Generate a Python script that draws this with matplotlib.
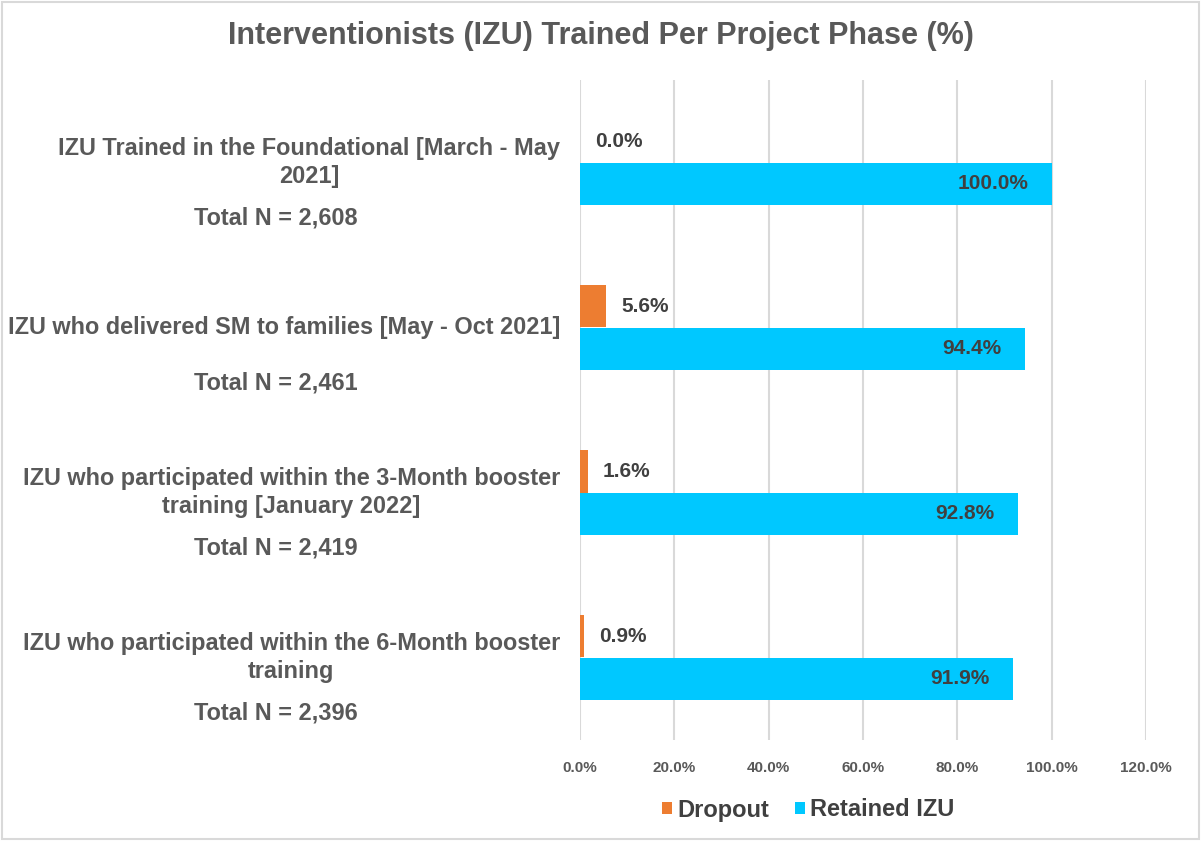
import numpy as np
import matplotlib.pyplot as plt
from matplotlib.patches import Rectangle
import matplotlib.transforms as mtransforms

plt.rcParams['font.family'] = ['Liberation Sans', 'DejaVu Sans']
plt.rcParams['font.weight'] = 'bold'

# data
phases = ['IZU Trained in the Foundational [March - May\n2021]',
          'IZU who delivered SM to families [May - Oct 2021]',
          'IZU who participated within the 3-Month booster\ntraining [January 2022]',
          'IZU who participated within the 6-Month booster\ntraining']
totals = ['Total N = 2,608', 'Total N = 2,461', 'Total N = 2,419', 'Total N = 2,396']
dropout = [0.0, 5.6, 1.6, 0.9]
retained = [100.0, 94.4, 92.8, 91.9]
xticks = [0, 20, 40, 60, 80, 100, 120]

orange = '#ED7D31'
blue = '#00C8FF'
grey = '#595959'
dark = '#404040'

fig = plt.figure(figsize=(12.01, 8.41), dpi=100)
ax = fig.add_axes([580/1201, 1-740/841, (1146-580)/1201, 660/841])

y = np.arange(len(phases))
h = 0.255
ax.barh(y - h/2, dropout, height=h, color=orange, label='Dropout')
ax.barh(y + h/2, retained, height=h, color=blue, label='Retained IZU')

for i in range(len(phases)):
    ax.text(dropout[i] + 3.2, y[i] - h/2, f'{dropout[i]:.1f}%', ha='left', va='center',
            fontsize=15, color=dark, fontweight='bold')
    ax.text(retained[i] - 5.0, y[i] + h/2, f'{retained[i]:.1f}%', ha='right', va='center',
            fontsize=15, color=dark, fontweight='bold')

ax.set_xlim(0, 120)
ax.set_ylim(len(phases) - 0.5, -0.5)
ax.set_xticks(xticks)
ax.set_xticklabels([f'{t:.1f}%' for t in xticks], fontsize=11, color=grey, fontweight='bold')
ax.set_yticks([])
ax.tick_params(axis='x', length=0, pad=15)
ax.grid(axis='x', color='#D9D9D9', linewidth=1.5)
ax.set_axisbelow(True)
for s in ax.spines.values():
    s.set_visible(False)

# category labels on the left
trans = mtransforms.blended_transform_factory(fig.transFigure, ax.transData)
for i in range(len(phases)):
    ax.text(560/1201, y[i], phases[i], transform=trans, ha='right', va='center',
            multialignment='center', fontsize=16.9, color=grey, fontweight='bold',
            linespacing=1.25)
    ax.text(276/1201, y[i] + 0.335, totals[i], transform=trans, ha='center', va='center',
            fontsize=16.9, color=grey, fontweight='bold')

fig.text(0.5, 1-36/841, 'Interventionists (IZU) Trained Per Project Phase (%)',
         ha='center', va='center', fontsize=22, color=grey, fontweight='bold')

fig.legend(loc='center', bbox_to_anchor=(808/1201, 1-810/841), ncol=2, frameon=False,
           fontsize=17, handlelength=0.45, handleheight=0.45, handletextpad=0.2,
           columnspacing=1.1, labelcolor=dark)

fig.patches.append(Rectangle((0.002, 0.002), 0.996, 0.996, transform=fig.transFigure,
                             fill=False, edgecolor='#D9D9D9', linewidth=1.5))

fig.savefig('out.png', dpi=100, facecolor='white')
